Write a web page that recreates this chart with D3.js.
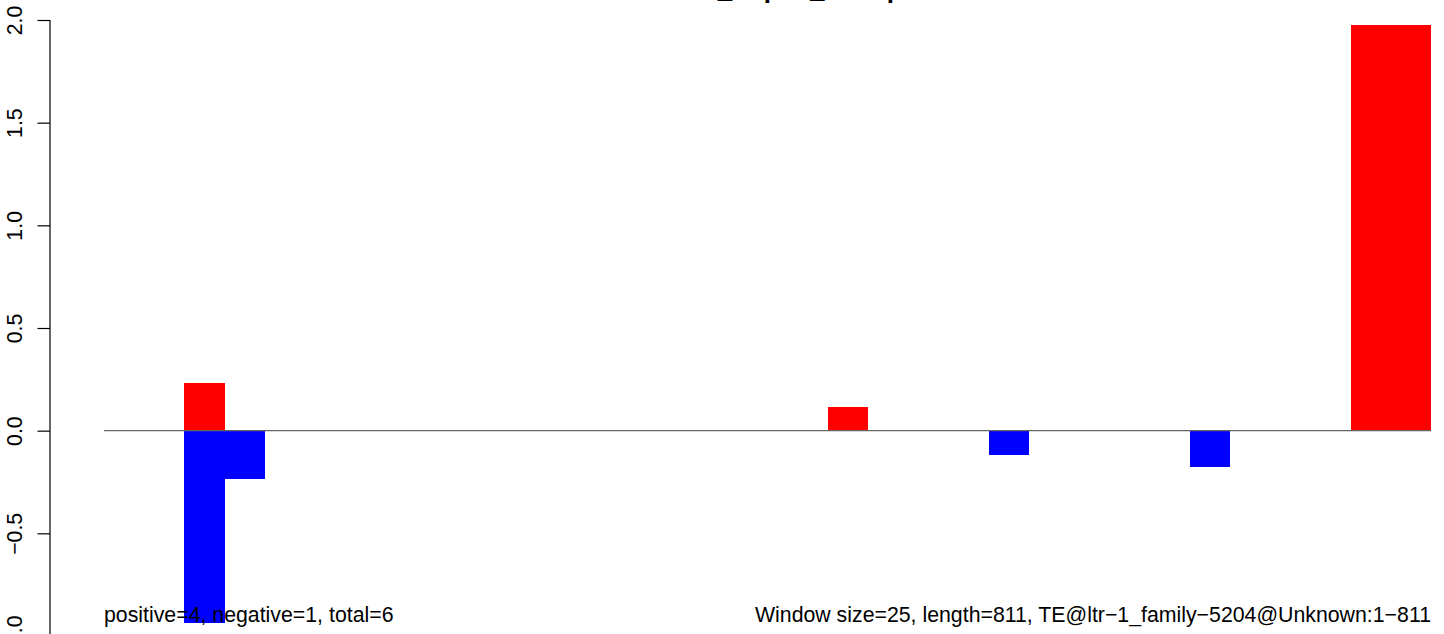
<!DOCTYPE html>
<html>
<head>
<meta charset="utf-8">
<script src="https://cdn.jsdelivr.net/npm/d3@7"></script>
<style>
  html, body { margin: 0; padding: 0; background: #fff; }
  svg { display: block; }
  text { font-family: "Liberation Sans", Arial, Helvetica, sans-serif; }
</style>
</head>
<body>
<svg id="chart" width="1444" height="634"></svg>
<script>
// ---- data ----
const title = "TEdiff_dupko_ratesplot";
const nBins = 33;                       // 811 bp / window size 25
const plusBins  = [2, 18, 31, 32];
const plusVals  = [0.234, 0.117, 1.977, 1.977];
const minusBins = [2, 3, 22, 27];
const minusVals = [-0.935, -0.234, -0.117, -0.175];
const yTicks = [-1.0, -0.5, 0.0, 0.5, 1.0, 1.5, 2.0];
const leftNote = "positive=4, negative=1, total=6";
const rightNote = "Window size=25, length=811, TE@ltr\u22121_family\u22125204@Unknown:1\u2212811";

// ---- layout ----
const svg = d3.select("#chart");
const x = d3.scaleLinear().domain([0, nBins]).range([104, 1431]);
const y = d3.scaleLinear().domain([-1, 2]).range([636, 20]);
const axisX = 50;

// title (mostly clipped above the top edge, as in the reference)
svg.append("text")
  .attr("x", 644).attr("y", -2.2)
  .attr("font-size", 26).attr("font-weight", "bold")
  .attr("fill", "#000")
  .text(title);

// bars
const plus = plusBins.map((b, i) => ({ b, v: plusVals[i] }));
const minus = minusBins.map((b, i) => ({ b, v: minusVals[i] }));

svg.append("g").attr("shape-rendering", "crispEdges")
  .selectAll("rect.plus").data(plus).join("rect")
  .attr("x", d => x(d.b)).attr("width", d => x(d.b + 1) - x(d.b) + 0.3)
  .attr("y", d => y(d.v)).attr("height", d => y(0) - y(d.v))
  .attr("fill", "#FF0000");

svg.append("g").attr("shape-rendering", "crispEdges")
  .selectAll("rect.minus").data(minus).join("rect")
  .attr("x", d => x(d.b)).attr("width", d => x(d.b + 1) - x(d.b) + 0.3)
  .attr("y", y(0)).attr("height", d => y(d.v) - y(0))
  .attr("fill", "#0000FF");

// zero line
svg.append("line")
  .attr("x1", x(0)).attr("x2", x(nBins))
  .attr("y1", y(0)).attr("y2", y(0))
  .attr("stroke", "#666666").attr("stroke-width", 1.2);

// y axis
const yAxis = d3.axisLeft(y).tickValues(yTicks).tickSize(12.5).tickFormat(d3.format(".1f"));
const gAxis = svg.append("g").attr("transform", `translate(${axisX},0)`).call(yAxis);
gAxis.select(".domain").attr("stroke", "#000").attr("stroke-width", 1.2)
  .attr("d", `M0,${y(2)}V${y(-1)}`);
gAxis.selectAll(".tick line").attr("stroke", "#000").attr("stroke-width", 1.2);
gAxis.selectAll(".tick text")
  .attr("font-size", 21.3)
  .attr("font-family", "Liberation Sans, Arial, sans-serif")
  .attr("fill", "#000")
  .attr("text-anchor", "middle")
  .attr("x", 0).attr("y", 0).attr("dy", null)
  .attr("transform", "translate(-28,0) rotate(-90)")
  .text(d => d3.format(".1f")(d).replace("-", "\u2212"));

// notes
svg.append("text")
  .attr("x", x(0)).attr("y", 622)
  .attr("font-size", 21.3).attr("fill", "#000")
  .text(leftNote);
svg.append("text")
  .attr("x", x(nBins)).attr("y", 622)
  .attr("font-size", 21.3).attr("fill", "#000")
  .attr("text-anchor", "end")
  .text(rightNote);
</script>
</body>
</html>
